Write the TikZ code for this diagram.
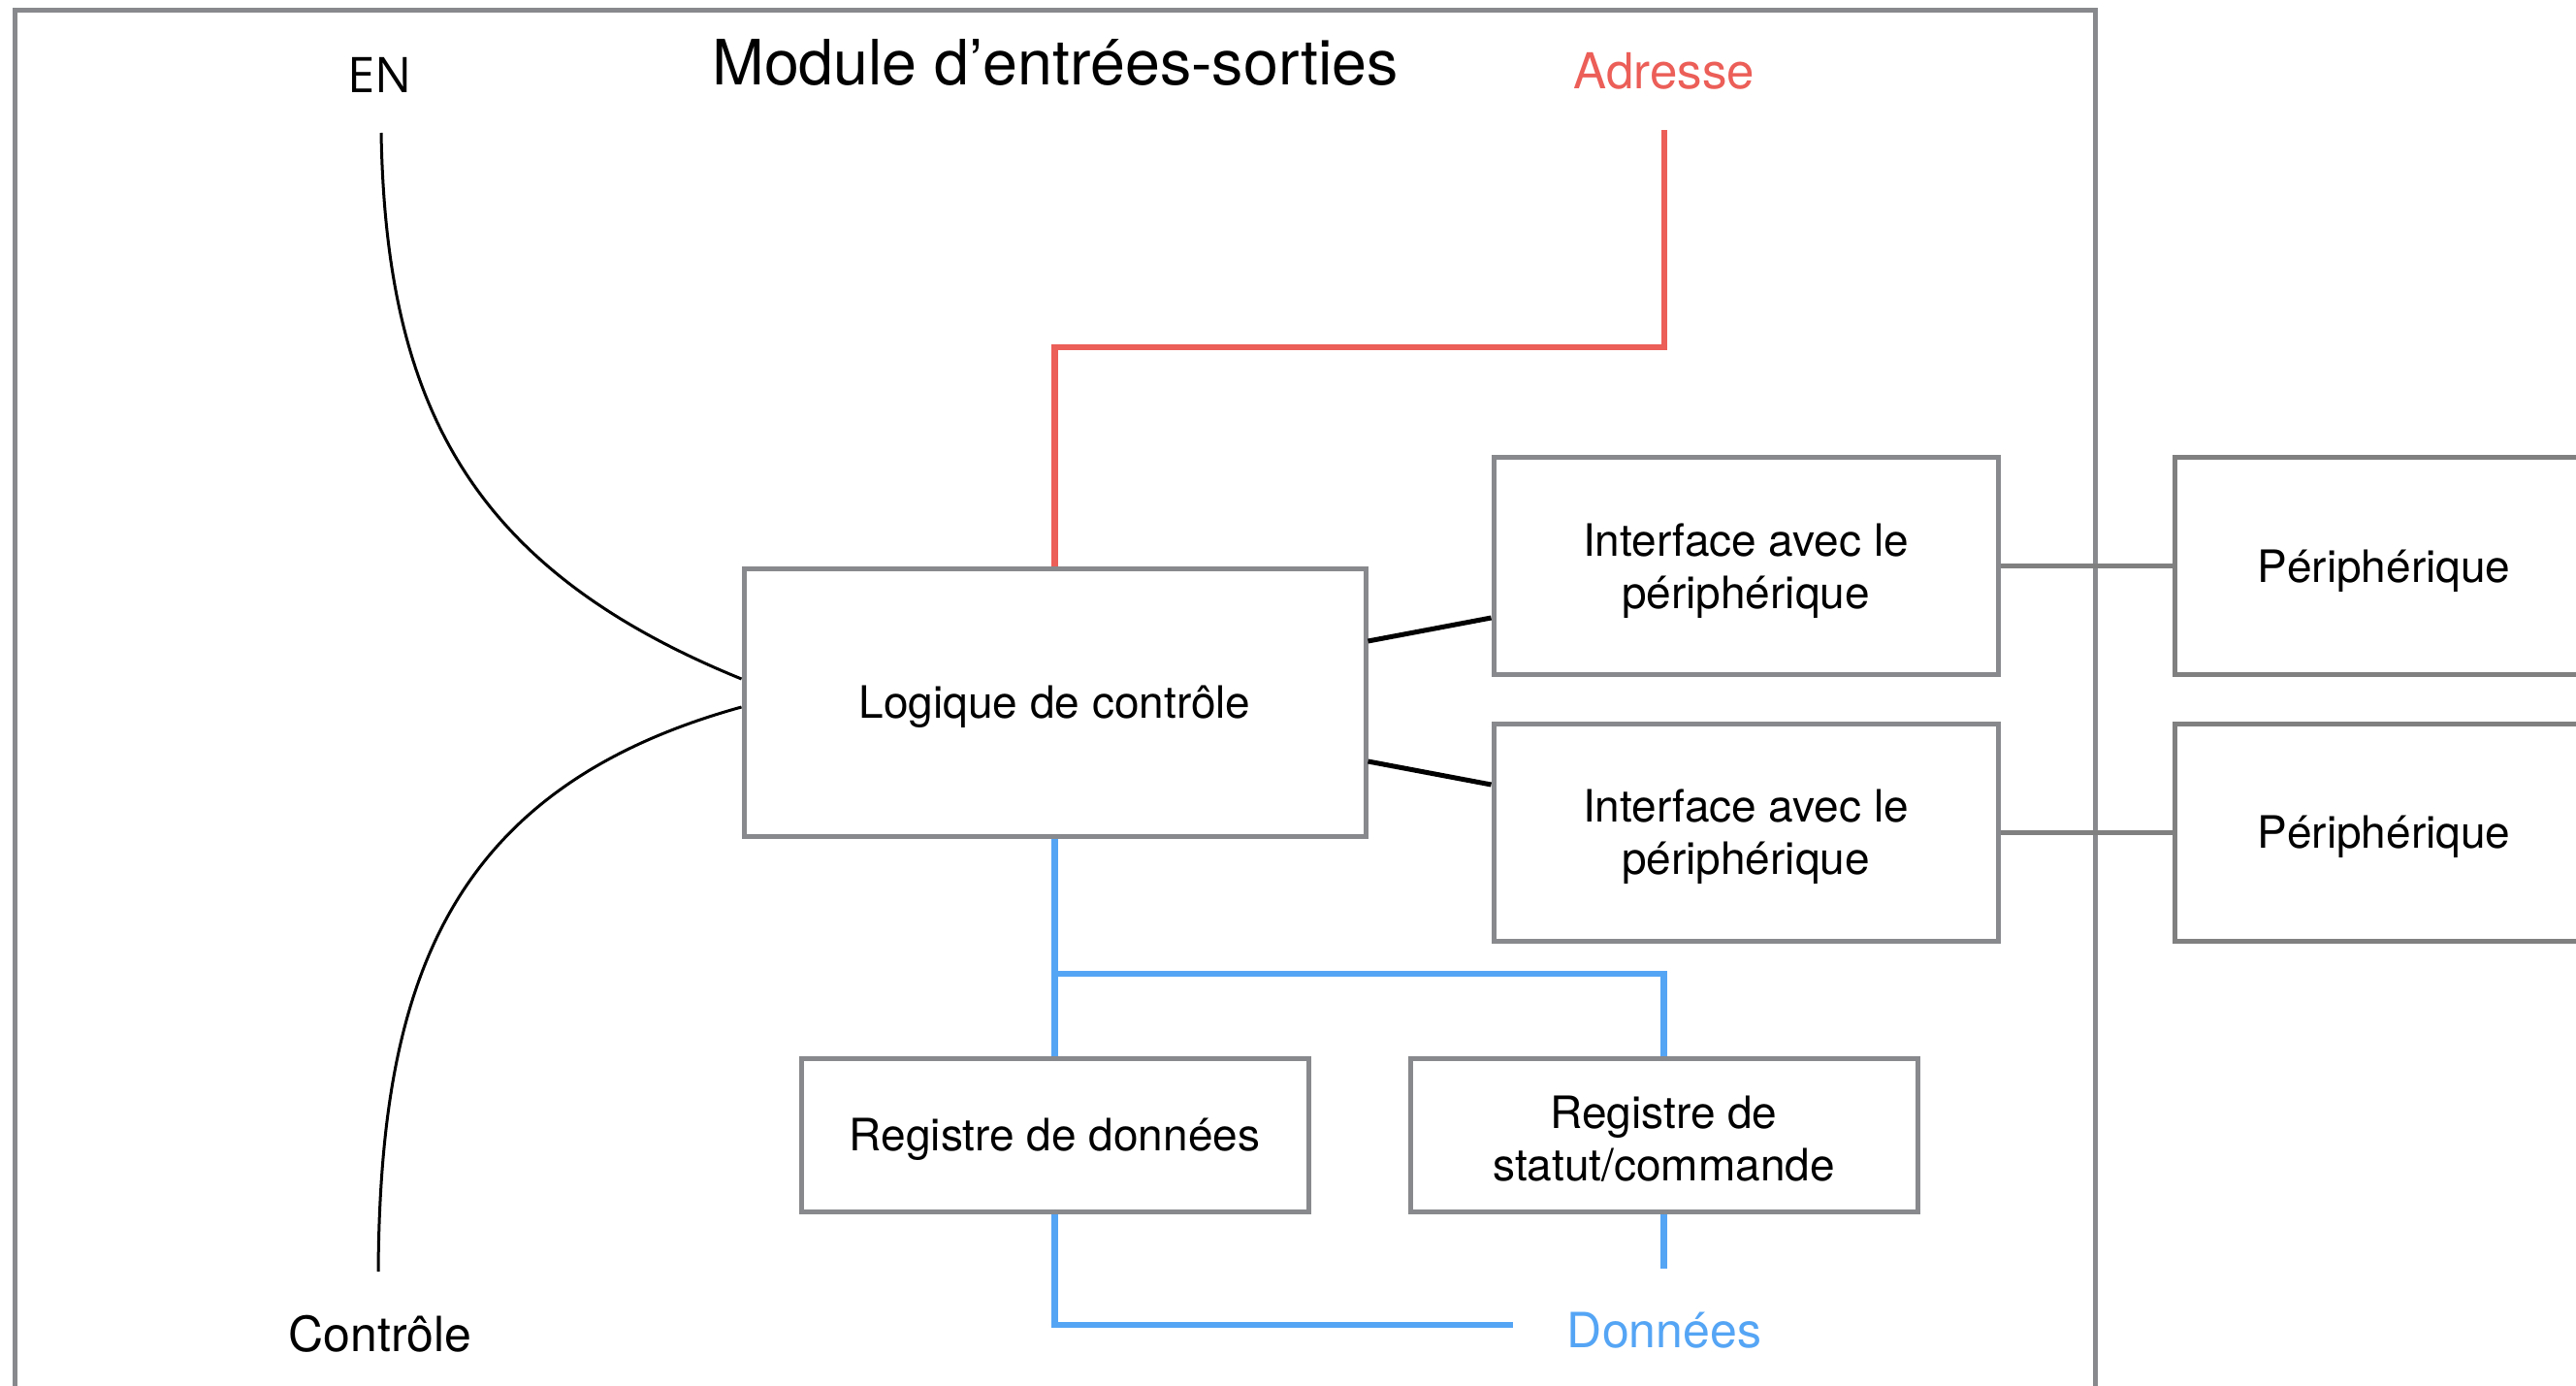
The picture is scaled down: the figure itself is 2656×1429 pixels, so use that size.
\documentclass[tikz,border=0pt]{standalone}
\usepackage{fontspec}
\setmainfont{TeX Gyre Heros}
\newfontfamily\enfont{Open Sans}
\definecolor{boxgray}{RGB}{136,137,140}
\definecolor{pgray}{RGB}{128,128,128}
\definecolor{adrred}{RGB}{236,94,88}
\definecolor{datblue}{RGB}{85,165,245}
\tikzset{
  blk/.style={draw=boxgray, line width=1.5pt, fill=white, inner sep=0pt},
  pblk/.style={blk, draw=pgray},
  boxtext/.style={align=center, inner sep=0pt, yshift=-1.4pt,
    font=\fontsize{13.8}{16.2}\selectfont},
  lbl/.style={anchor=base, inner sep=0pt, font=\fontsize{15}{18}\selectfont},
  redbus/.style={draw=adrred, line width=2pt},
  bluebus/.style={draw=datblue, line width=2pt},
  thinwire/.style={draw=black, line width=0.9pt},
  thickwire/.style={draw=black, line width=1.5pt},
  graywire/.style={draw=pgray, line width=1.5pt}
}
\begin{document}
\begin{tikzpicture}[x=0.3pt, y=-0.3pt]
\clip (0,0) rectangle (2656,1429);
\fill[white] (0,0) rectangle (2656,1429);
% frame
\draw[boxgray, line width=1.5pt] (15,1470) -- (15,11) -- (2160,11) -- (2160,1470);
% labels
\node[lbl, font=\fontsize{19.35}{23}\selectfont] (title) at (1088,88) {Module d’entrées-sorties};
\node[lbl, font=\enfont\fontsize{15.2}{18}\selectfont] (en) at (392,96) {EN};
\node[lbl, text=adrred, font=\fontsize{15.3}{18}\selectfont] (adr) at (1716,92) {Adresse};
\node[lbl] (ctl) at (392,1393) {Contrôle};
\node[lbl, text=datblue] (don) at (1716,1389) {Données};
% free ends
\coordinate (enEnd) at (393,137);
\coordinate (ctlEnd) at (390,1311);
\coordinate (adrEnd) at (1716,134);
\coordinate (donEnd) at (1560,1366);
\coordinate (statEnd) at (1715.5,1308);
% connectors (drawn below the boxes)
\draw[redbus] (1087.5,587) -- (1087.5,358) -| (adrEnd);
% boxes
\node[blk, minimum width=192.3pt, minimum height=82.5pt] (logic) at (1087.5,724.5) {};
\node[blk, minimum width=156pt, minimum height=67.2pt] (if1) at (1800,584) {};
\node[blk, minimum width=156pt, minimum height=67.2pt] (if2) at (1800,858.5) {};
\node[pblk, minimum width=129.6pt, minimum height=67.2pt] (p1) at (2458,584) {};
\node[pblk, minimum width=129.6pt, minimum height=67.2pt] (p2) at (2458,858.5) {};
\node[blk, minimum width=156.9pt, minimum height=47.4pt] (regd) at (1087.5,1170) {};
\node[blk, minimum width=156.9pt, minimum height=47.4pt] (regs) at (1715.5,1170) {};
% box texts
\node[boxtext] (logicT) at (logic.center) {Logique de contrôle};
\node[boxtext] (if1T) at (if1.center) {Interface avec le\\périphérique};
\node[boxtext] (if2T) at (if2.center) {Interface avec le\\périphérique};
\node[boxtext] (p1T) at (p1.center) {Périphérique};
\node[boxtext] (p2T) at (p2.center) {Périphérique};
\node[boxtext] (regdT) at (regd.center) {Registre de données};
\node[boxtext] (regsT) at (regs.center) {Registre de\\statut/commande};
% connectors
\draw[bluebus] (logic.south) -- (regd.north);
\draw[bluebus] (logic.south |- 0,1004) -| (regs.north);
\draw[bluebus] (regd.south) |- (donEnd);
\draw[bluebus] (regs.south) -- (statEnd);
\draw[thinwire] (enEnd) .. controls (398,420) and (487,587) .. (logic.west |- 0,700);
\draw[thinwire] (ctlEnd) .. controls (392,1020) and (457,814) .. (logic.west |- 0,729);
\draw[thickwire] (logic.east |- 0,661) -- (if1.west |- 0,637);
\draw[thickwire] (logic.east |- 0,785) -- (if2.west |- 0,809);
\draw[graywire] (if1.east) -- (p1.west);
\draw[graywire] (if2.east) -- (p2.west);
\end{tikzpicture}
\end{document}
